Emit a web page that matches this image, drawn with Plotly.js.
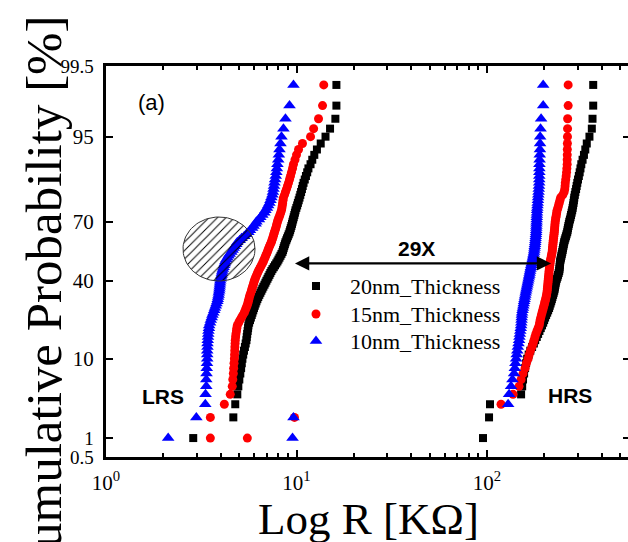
<!DOCTYPE html>
<html><head><meta charset="utf-8">
<script src="https://cdn.plot.ly/plotly-3.0.1.min.js"></script>
<style>html,body{margin:0;padding:0;overflow:hidden;background:#fff;width:628px;height:542px}</style>
</head><body><div id="chart" style="width:634px;height:542px"></div>
<script>
// cumulative probability levels [%]
const pct = [1,2,3,4,5,6,7,8,9,10,11,12,13,14,15,16,17,18,19,20,21,22,23,24,25,26,27,28,29,30,
31,32,33,34,35,36,37,38,39,40,41,42,43,44,45,46,47,48,49,50,51,52,53,54,55,56,57,58,59,60,
61,62,63,64,65,66,67,68,69,70,71,72,73,74,75,76,77,78,79,80,81,82,83,84,85,86,87,88,89,90,
91,92,93,94,95,96,97,98,99];

// resistance [kOhm] — 20nm
const lrs20 = [2.87,4.66,4.77,4.89,4.95,5.01,5.07,5.12,5.16,5.20,
5.25,5.30,5.36,5.41,5.46,5.48,5.51,5.54,5.57,5.59,
5.64,5.70,5.76,5.82,5.87,5.93,5.98,6.04,6.10,6.16,
6.23,6.30,6.38,6.46,6.54,6.62,6.70,6.79,6.87,6.95,
7.04,7.12,7.21,7.29,7.38,7.48,7.60,7.71,7.83,7.94,
8.04,8.14,8.24,8.34,8.44,8.50,8.56,8.62,8.69,8.75,
8.84,8.92,9.01,9.10,9.19,9.26,9.33,9.40,9.47,9.53,
9.60,9.67,9.74,9.81,9.88,9.98,10.08,10.17,10.27,10.37,
10.47,10.57,10.68,10.78,10.89,11.05,11.21,11.38,11.55,11.85,
12.1,12.4,12.8,13.4,14.2,15.0,16.0,16.2,16.2];
const hrs20 = [95.3,102.5,103.7,151.0,153.0,154.6,156.6,158.5,160.4,162.5,
165.5,168.8,172.5,176.2,179.1,182.5,185.5,188.5,191.5,194.5,
197.2,199.5,201.8,204.3,207.0,209.4,211.8,213.5,215.5,217.3,
219.0,220.5,222.3,223.8,225.4,226.5,227.5,228.5,229.5,230.7,
232.5,234.5,236.0,237.8,239.3,240.0,240.5,241.0,241.5,242.1,
243.3,244.6,245.8,247.0,248.3,249.5,250.5,251.8,253.0,254.1,
255.8,257.6,259.6,261.5,263.6,264.8,266.0,267.5,269.0,270.4,
272.5,274.5,276.2,278.0,280.0,281.5,283.0,284.5,285.8,287.1,
289.0,291.0,293.5,295.5,297.8,300.5,303.5,306.5,309.5,312.6,
317.5,322.8,328.1,334,345,355,358,361,361];

// 15nm
const lrs15 = [3.53,3.53,4.18,4.49,4.60,4.63,4.66,4.68,4.70,4.72,
4.73,4.74,4.75,4.76,4.77,4.79,4.81,4.84,4.86,4.89,
4.97,5.05,5.14,5.23,5.32,5.38,5.44,5.50,5.55,5.59,
5.62,5.66,5.70,5.75,5.80,5.84,5.88,5.93,5.97,6.01,
6.07,6.12,6.18,6.24,6.31,6.38,6.46,6.54,6.62,6.70,
6.76,6.83,6.89,6.96,7.03,7.09,7.15,7.22,7.29,7.38,
7.43,7.49,7.55,7.60,7.66,7.72,7.78,7.84,7.89,7.94,
8.02,8.10,8.18,8.26,8.34,8.38,8.42,8.46,8.50,8.54,
8.65,8.75,8.86,8.97,9.08,9.19,9.30,9.41,9.53,9.64,
9.82,10.0,10.25,10.75,11.85,12.3,13.05,13.7,13.9];
const hrs15 = [null,null,118.5,137.0,147.3,151.0,154.6,158.5,161.0,164.4,
166.5,169.0,172.0,174.6,176.6,178.5,180.5,183.0,185.5,187.9,
189.0,190.1,191.5,193.0,194.5,196.0,197.5,199.0,200.5,201.8,
203.0,204.3,205.5,206.3,207.0,207.5,208.0,208.5,209.0,209.4,
209.9,210.4,210.9,211.4,211.8,212.4,213.0,213.6,214.2,214.8,
215.8,216.8,217.8,218.8,219.8,220.3,220.8,221.3,221.8,222.3,
222.9,223.5,224.1,224.8,225.4,226.0,226.5,227.0,227.5,228.0,
229.0,230.0,231.2,232.2,233.3,235.5,237.5,239.5,241.5,243.5,
250.0,254.0,256.0,257.0,257.6,259.0,260.5,261.5,262.5,263.6,
263.6,263.8,264.0,264.2,264.5,264.8,265.0,266.7,266.7];
const outR15 = [5.52, 9.76], outPct15 = [1, 2];

// 10nm
const lrs10 = [2.12,2.98,3.32,3.33,3.36,3.36,3.37,3.38,3.39,3.40,
3.40,3.40,3.41,3.41,3.42,3.43,3.44,3.45,3.47,3.48,
3.52,3.55,3.59,3.62,3.66,3.70,3.73,3.77,3.80,3.84,
3.86,3.88,3.90,3.91,3.93,3.94,3.95,3.96,3.97,3.98,
4.00,4.02,4.04,4.06,4.08,4.11,4.14,4.17,4.20,4.23,
4.28,4.34,4.40,4.46,4.55,4.62,4.68,4.75,4.83,4.89,
5.03,5.15,5.32,5.45,5.59,5.70,5.85,5.95,6.10,6.16,
6.35,6.46,6.62,6.78,6.87,7.00,7.10,7.21,7.30,7.38,
7.47,7.52,7.57,7.62,7.66,7.72,7.78,7.84,7.89,7.94,
8.02,8.08,8.14,8.24,8.34,8.54,8.75,9.19,9.64];
const hrs10 = [null,null,129.1,130.6,133.7,136.0,138.7,140.0,141.0,142.2,
143.2,144.2,145.2,146.3,147.3,148.0,148.8,149.5,150.3,151.0,
151.4,151.8,152.1,152.5,152.8,153.6,154.4,155.2,155.9,156.6,
157.4,158.1,158.9,159.6,160.4,161.2,162.0,162.8,163.6,164.4,
165.2,166.0,166.8,167.5,168.3,169.2,170.0,170.9,171.7,172.6,
173.4,174.2,175.0,175.8,176.6,177.1,177.6,178.1,178.6,179.1,
179.5,179.9,180.3,180.7,181.1,181.3,181.5,181.7,181.9,182.1,
182.3,182.5,182.7,183.0,183.2,183.6,184.1,184.5,185.0,185.4,
185.9,186.4,186.9,187.4,187.9,188.0,188.1,188.2,188.3,188.4,
188.8,189.2,189.6,189.9,190.1,191.0,192.3,197.2,197.2];
const outR10 = [9.53, 9.64], outPct10 = [1, 2];

const seriesNames = ['20nm_Thickness', '15nm_Thickness', '10nm_Thickness'];
const seriesSymbols = ['square', 'circle', 'triangle-up'];
const seriesColors = ['#000000', '#ff0000', '#0000ff'];
const seriesSizes = [8, 9, 11];
const yTickPct = [0.5, 1, 10, 40, 70, 95, 99.5];
const yTickText = ['<span style="font-size:19px">0.5</span>', '<span style="font-size:19px">1</span>', '10', '40', '70', '95', '<span style="font-size:19px">99.5</span>'];
const xTickVals = [1, 10, 100];
const xTickText = ['10<sup>0</sup>', '10<sup>1</sup>', '10<sup>2</sup>'];
const arrowR = [9.64, 217], arrowPct = 49;

// inverse normal CDF (probability-scale axis)
function probit(p){
  const a=[-3.969683028665376e+01,2.209460984245205e+02,-2.759285104469687e+02,1.383577518672690e+02,-3.066479806614716e+01,2.506628277459239e+00];
  const b=[-5.447609879822406e+01,1.615858368580409e+02,-1.556989798598866e+02,6.680131188771972e+01,-1.328068155288572e+01];
  const c=[-7.784894002430293e-03,-3.223964580411365e-01,-2.400758277161838e+00,-2.549732539343734e+00,4.374664141464968e+00,2.938163982698783e+00];
  const d=[7.784695709041462e-03,3.224671290700398e-01,2.445134137142996e+00,3.754408661907416e+00];
  const pl=0.02425, ph=1-pl; let q, r;
  if(p<pl){q=Math.sqrt(-2*Math.log(p));return (((((c[0]*q+c[1])*q+c[2])*q+c[3])*q+c[4])*q+c[5])/((((d[0]*q+d[1])*q+d[2])*q+d[3])*q+1);}
  if(p<=ph){q=p-0.5;r=q*q;return (((((a[0]*r+a[1])*r+a[2])*r+a[3])*r+a[4])*r+a[5])*q/(((((b[0]*r+b[1])*r+b[2])*r+b[3])*r+b[4])*r+1);}
  q=Math.sqrt(-2*Math.log(1-p));return -(((((c[0]*q+c[1])*q+c[2])*q+c[3])*q+c[4])*q+c[5])/((((d[0]*q+d[1])*q+d[2])*q+d[3])*q+1);
}
const Z = v => v == null ? null : probit(v/100);

const W=634, H=542, ML=106, MR=4, MT=66, MB=85;
const PW=W-ML-MR, PH=H-MT-MB;
const px = x => (x-ML)/PW, py = y => (H-MB-y)/PH;

function mk(lrs, hrs, outR, outP, i){
  let xs = lrs.concat(hrs), ys = pct.concat(pct);
  if(outR){ xs = xs.concat(outR); ys = ys.concat(outP); }
  return {type:'scatter', mode:'markers', name:seriesNames[i], x:xs, y:ys.map(Z), showlegend:false,
    marker:{symbol:seriesSymbols[i], size:seriesSizes[i], color:seriesColors[i], opacity:1, line:{width:0}}, hoverinfo:'skip'};
}
const traces = [
  mk(lrs20, hrs20, null, null, 0),
  mk(lrs15, hrs15, outR15, outPct15, 1),
  mk(lrs10, hrs10, outR10, outPct10, 2)
];

// legend box symbols (each in its own trace, pixel-like overlay axes)
const legX = 316, legTextX = 348, legRows = [286, 314, 341];
legRows.forEach((r,i)=>traces.push({type:'scatter', mode:'markers', xaxis:'x2', yaxis:'y2', showlegend:false,
  hoverinfo:'skip', cliponaxis:false, x:[legX-ML], y:[H-MB-r],
  marker:{symbol:seriesSymbols[i], size:seriesSizes[i], color:seriesColors[i], opacity:1, line:{width:0}}}));

// hatched ellipse (decoration)
const ecx=219-ML, ecy=H-MB-249, erx=36, ery=32;
const ex=[], ey=[];
for(let i=0;i<=90;i++){const t=i/90*2*Math.PI; ex.push(ecx+erx*Math.cos(t)); ey.push(ecy+ery*Math.sin(t));}
traces.push({type:'scatter', mode:'lines', x:ex, y:ey, xaxis:'x2', yaxis:'y2', fill:'toself',
  fillcolor:'rgba(0,0,0,0)', fillpattern:{shape:'/', size:6, solidity:0.16, fgcolor:'#000', bgcolor:'rgba(0,0,0,0)'},
  line:{color:'#333', width:1}, showlegend:false, hoverinfo:'skip'});

const serif = 'Liberation Serif';
const sans = 'Liberation Sans';

const annotations = [
  {xref:'paper', yref:'paper', x:px(44), y:py(299), text:'Cumulative Probability [%]', textangle:-90,
    showarrow:false, xanchor:'center', yanchor:'middle', font:{family:serif, size:51, color:'#000'}},
  {xref:'paper', yref:'paper', x:px(368), y:py(519), text:'Log R [K\u03A9]',
    showarrow:false, xanchor:'center', yanchor:'middle', font:{family:serif, size:45, color:'#000'}},
  {xref:'paper', yref:'paper', x:px(151), y:py(102), text:'(a)', showarrow:false, xanchor:'center', yanchor:'middle',
    font:{family:sans, size:22, color:'#000'}},
  {xref:'paper', yref:'paper', x:px(163), y:py(396), text:'<b>LRS</b>', showarrow:false, xanchor:'center', yanchor:'middle',
    font:{family:sans, size:21, color:'#000'}},
  {xref:'paper', yref:'paper', x:px(570), y:py(395), text:'<b>HRS</b>', showarrow:false, xanchor:'center', yanchor:'middle',
    font:{family:sans, size:21, color:'#000'}},
  {xref:'paper', yref:'paper', x:px(416), y:py(249), text:'<b>29X</b>', showarrow:false, xanchor:'center', yanchor:'middle',
    font:{family:sans, size:21, color:'#000'}},
  {xref:'x', yref:'y', axref:'x', ayref:'y', x:Math.log10(arrowR[1]), y:Z(arrowPct),
    ax:Math.log10(arrowR[0]), ay:Z(arrowPct), text:'', showarrow:true,
    arrowhead:2, startarrowhead:2, arrowside:'end+start', arrowsize:1.3, startarrowsize:1.3,
    arrowwidth:2.2, arrowcolor:'#000', standoff:0, startstandoff:0}
];
legRows.forEach((r,i)=>annotations.push({xref:'paper', yref:'paper', x:px(legTextX), y:py(r), text:seriesNames[i],
  showarrow:false, xanchor:'left', yanchor:'middle', font:{family:serif, size:22, color:'#000'}}));

const layout = {
  width:W, height:H, margin:{l:ML, r:MR, t:MT, b:MB, pad:0},
  paper_bgcolor:'#fff', plot_bgcolor:'#fff', showlegend:false,
  xaxis:{type:'log', range:[0, (W-MR-ML)/190.5], showline:true, linewidth:3, linecolor:'#000',
    mirror:'ticks', ticks:'inside', ticklen:7, tickwidth:2, tickcolor:'#000',
    tickmode:'array', tickvals:xTickVals, ticktext:xTickText,
    tickfont:{family:serif, size:21, color:'#000'}, ticklabelstandoff:5,
    showgrid:false, zeroline:false,
    minor:{ticks:'inside', ticklen:4, tickwidth:2, tickcolor:'#000', dtick:'D1', showgrid:false}},
  yaxis:{range:[probit(0.005), probit(0.995)], showline:true, linewidth:3, linecolor:'#000',
    mirror:'ticks', ticks:'inside', ticklen:7, tickwidth:2, tickcolor:'#000',
    tickmode:'array', tickvals:yTickPct.map(Z), ticktext:yTickText,
    tickfont:{family:serif, size:21, color:'#000'}, ticklabelstandoff:5,
    showgrid:false, zeroline:false},
  xaxis2:{overlaying:'x', range:[0, PW], visible:false, fixedrange:true},
  yaxis2:{overlaying:'y', range:[0, PH], visible:false, fixedrange:true},
  annotations:annotations
};
Plotly.newPlot('chart', traces, layout, {staticPlot:true, displayModeBar:false});
</script></body></html>
